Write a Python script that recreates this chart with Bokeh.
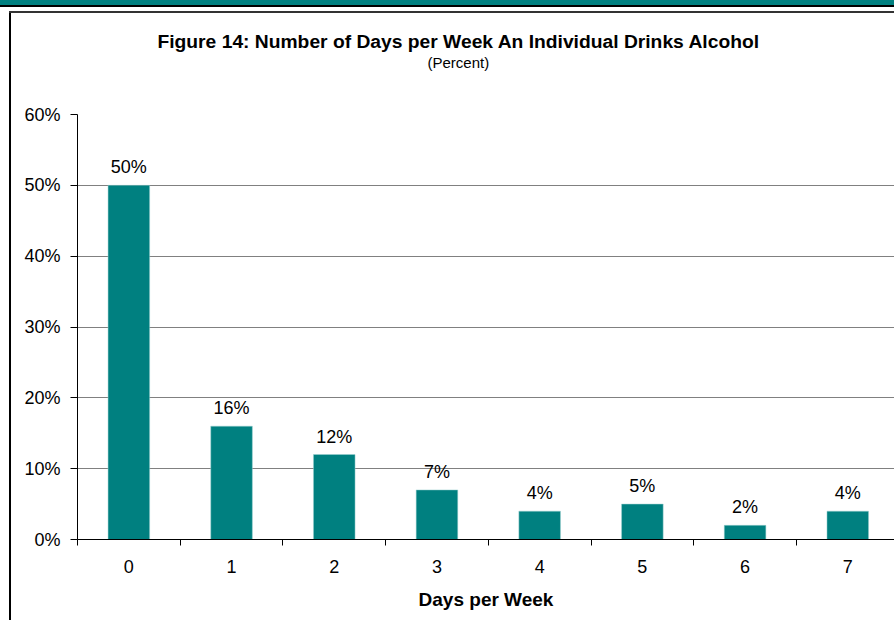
from bokeh.plotting import figure
from bokeh.models import (ColumnDataSource, FixedTicker, PrintfTickFormatter, Title, Range1d)
from bokeh.core.properties import value
from bokeh.embed import file_html
from bokeh.resources import INLINE

days = [0, 1, 2, 3, 4, 5, 6, 7]
percents = [50, 16, 12, 7, 4, 5, 2, 4]
labels = [f"{v}%" for v in percents]
y_ticks = [0, 10, 20, 30, 40, 50, 60]
title_text = "Figure 14: Number of Days per Week An Individual Drinks Alcohol"
subtitle_text = "(Percent)"
x_label = "Days per Week"

FONT = "Liberation Sans"
src = ColumnDataSource(dict(x=days, top=percents, lab=labels))

p = figure(width=894, height=620, output_backend="svg", toolbar_location=None,
           x_range=Range1d(-0.5, 7.455), y_range=Range1d(0, 60),
           min_border_left=77, min_border_right=0, min_border_top=114, min_border_bottom=81)
p.outline_line_color = None
p.background_fill_color = "white"
p.border_fill_color = None

p.vbar(x="x", top="top", width=0.405, source=src, fill_color="#008080", line_color="#9fd0d0", line_width=0.5)
p.text(x="x", y="top", text="lab", source=src, text_align="center", text_baseline="bottom",
       y_offset=-8, text_font_size="18px", text_font=value(FONT), text_color="black")

# y axis
p.yaxis.ticker = FixedTicker(ticks=y_ticks)
p.yaxis.formatter = PrintfTickFormatter(format="%d%%")
p.yaxis.major_label_text_font = FONT
p.yaxis.major_label_text_font_size = "18px"
p.yaxis.major_label_text_color = "black"
p.yaxis.major_tick_out = 7
p.yaxis.major_tick_in = 0
p.yaxis.minor_tick_out = 0
p.yaxis.minor_tick_in = 0
p.yaxis.major_label_standoff = 10
p.yaxis.axis_line_color = "black"
p.yaxis.major_tick_line_color = "black"

# x axis
p.xaxis.ticker = FixedTicker(ticks=days, minor_ticks=[d + 0.5 for d in [-1] + days])
p.xaxis.major_tick_out = 0
p.xaxis.major_tick_in = 0
p.xaxis.minor_tick_out = 6
p.xaxis.minor_tick_in = 0
p.xaxis.minor_tick_line_color = "black"
p.xaxis.axis_line_color = "black"
p.xaxis.major_label_text_font = FONT
p.xaxis.major_label_text_font_size = "18px"
p.xaxis.major_label_text_color = "black"
p.xaxis.major_label_standoff = 14
p.xaxis.axis_label = x_label
p.xaxis.axis_label_text_font = FONT
p.xaxis.axis_label_text_font_size = "19px"
p.xaxis.axis_label_text_font_style = "bold"
p.xaxis.axis_label_text_color = "black"
p.xaxis.axis_label_standoff = 13

p.xgrid.grid_line_color = None
p.ygrid.ticker = FixedTicker(ticks=y_ticks)
p.ygrid.grid_line_color = "#808080"
p.ygrid.grid_line_width = 1

so = {"standoff": 0} if "standoff" in Title.properties() else {}
p.add_layout(Title(text=" ", align="left", text_font=FONT, text_font_size="38px", **so), "above")
p.add_layout(Title(text=subtitle_text, align="left", offset=350, text_font=FONT,
                   text_font_size="15px", text_font_style="normal", text_color="black", **so), "above")
p.add_layout(Title(text=title_text, align="left", offset=80, text_font=FONT,
                   text_font_size="19.25px", text_font_style="bold", text_color="black", **so), "above")

p.styles = {
    "background": ("linear-gradient(#008080,#008080) 0 0/100% 5px no-repeat, "
                   "linear-gradient(#000,#000) 0 5px/100% 2px no-repeat, "
                   "linear-gradient(#333,#333) 9px 11px/100% 2px no-repeat, "
                   "linear-gradient(#000,#000) 9px 11px/2px 100% no-repeat, #fff"),
}

open("out.html", "w").write(file_html(p, INLINE))
